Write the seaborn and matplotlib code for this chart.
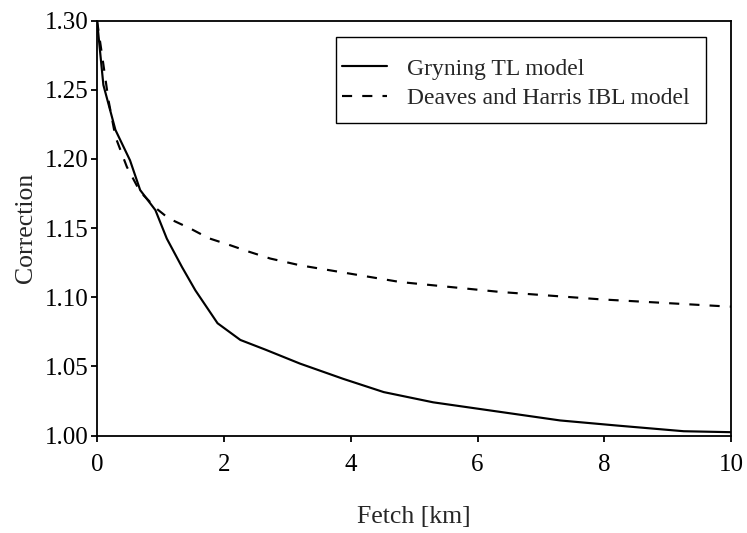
import matplotlib
matplotlib.use("Agg")
import matplotlib.pyplot as plt
from matplotlib.patches import Rectangle
import seaborn as sns
import pandas as pd

# Data
gryning_x = [0.0, 0.10, 0.29, 0.52, 0.68, 0.92, 1.10, 1.34, 1.55, 1.90, 2.26, 2.66, 3.20, 3.88, 4.52, 5.30, 7.30, 8.20, 9.25, 10.0]
gryning_y = [1.300, 1.2535, 1.221, 1.199, 1.1775, 1.163, 1.1424, 1.1218, 1.105, 1.0812, 1.0691, 1.062, 1.052, 1.041, 1.0314, 1.024, 1.0109, 1.0072, 1.0031, 1.0024]

deaves_x = [0.0, 0.075, 0.18, 0.29, 0.47, 0.68, 0.94, 1.13, 1.47, 1.76, 2.10, 2.39, 2.73, 3.20, 4.78, 6.36, 7.93, 9.90, 10.0]
deaves_y = [1.300, 1.2764, 1.2426, 1.216, 1.1943, 1.1762, 1.164, 1.157, 1.1497, 1.1427, 1.1376, 1.133, 1.128, 1.1231, 1.111, 1.1038, 1.0985, 1.0934, 1.0932]

series_labels = ["Gryning TL model", "Deaves and Harris IBL model"]
x_ticks = [0, 2, 4, 6, 8, 10]
y_ticks = [1.00, 1.05, 1.10, 1.15, 1.20, 1.25, 1.30]
x_label = "Fetch [km]"
y_label = "Correction"

sns.set_style("ticks")
plt.rcParams["font.family"] = ["Liberation Serif", "DejaVu Serif"]
plt.rcParams["font.size"] = 18

df_g = pd.DataFrame({"x": gryning_x, "y": gryning_y})
df_d = pd.DataFrame({"x": deaves_x, "y": deaves_y})

fig = plt.figure(figsize=(7.47, 5.33), dpi=100)
ax = fig.add_axes([0.1299, 0.1829, 0.979 - 0.1299, 0.9612 - 0.1829])

sns.lineplot(data=df_g, x="x", y="y", ax=ax, color="black", linewidth=1.55,
             label=series_labels[0], estimator=None, sort=False)
sns.lineplot(data=df_d, x="x", y="y", ax=ax, color="black", linewidth=1.55,
             label=series_labels[1], estimator=None, sort=False)
ax.lines[1].set_dashes([4.7, 4.7])

ax.set_xlim(0, 10)
ax.set_ylim(1.00, 1.30)
ax.set_xticks(x_ticks)
ax.set_xticklabels([str(t) for t in x_ticks])
ax.set_yticks(y_ticks)
ax.set_yticklabels([f"{t:.2f}" for t in y_ticks])

for s in ax.spines.values():
    s.set_visible(True)
    s.set_linewidth(1.3)
    s.set_color("black")

ax.tick_params(axis="both", which="both", direction="out", length=4, width=1.3,
               colors="black", labelsize=18)
ax.tick_params(axis="x", pad=9, top=False)
ax.tick_params(axis="y", pad=2, right=False)

ax.set_xlabel(x_label, fontsize=18.5, labelpad=22)
ax.set_ylabel(y_label, fontsize=18.5, labelpad=6)

leg = ax.legend(loc="upper left", bbox_to_anchor=(0.386, 0.9096), fontsize=17,
                frameon=False, borderpad=0.0, handlelength=1.9,
                handletextpad=0.85, labelspacing=0.34, borderaxespad=0)

# legend frame
ax.add_patch(Rectangle((0.3767, 0.7534), 0.9598 - 0.3767, 0.9614 - 0.7534,
                       transform=ax.transAxes, fill=False, edgecolor="black",
                       linewidth=1.0, zorder=5))

fig.savefig("out.png", dpi=100)
